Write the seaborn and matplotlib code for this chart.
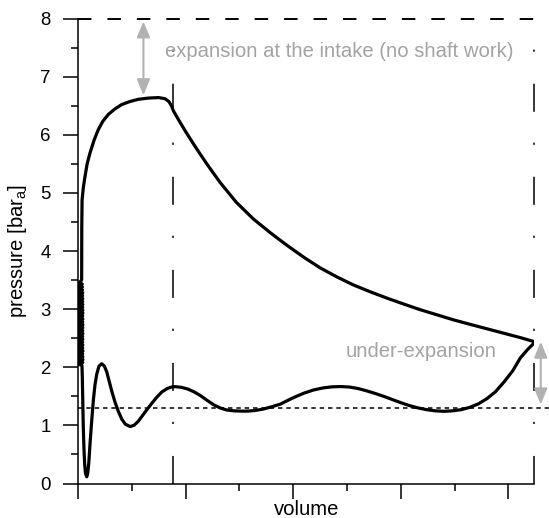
import matplotlib
matplotlib.use("Agg")
import matplotlib.pyplot as plt
import seaborn as sns
import pandas as pd
import numpy as np

# ---- data ----
# exhaust stroke: from bottom dead centre back towards top dead centre
lower_v = [4.24, 4.18, 4.11, 4.04, 3.96, 3.88, 3.80, 3.72, 3.64, 3.56, 3.48, 3.40, 3.32, 3.24,
           3.16, 3.08, 3.00, 2.92, 2.84, 2.76, 2.68, 2.60, 2.52, 2.44, 2.36, 2.28, 2.19, 2.10,
           2.03, 1.96, 1.88, 1.80, 1.72, 1.64, 1.57, 1.52, 1.45, 1.38, 1.32, 1.26, 1.20, 1.14,
           1.08, 1.02, 0.96, 0.902, 0.87, 0.83, 0.779, 0.73, 0.686, 0.64, 0.592, 0.56, 0.52,
           0.484, 0.44, 0.406, 0.375, 0.344, 0.315, 0.29, 0.267, 0.245, 0.22, 0.195, 0.174,
           0.158, 0.143, 0.127, 0.112, 0.10, 0.09, 0.081, 0.07, 0.062, 0.055, 0.049, 0.045,
           0.040, 0.037]
lower_p = [2.42, 2.31, 2.16, 1.94, 1.75, 1.58, 1.46, 1.37, 1.31, 1.27, 1.25, 1.242, 1.25, 1.27,
           1.30, 1.34, 1.39, 1.445, 1.50, 1.55, 1.595, 1.635, 1.66, 1.668, 1.663, 1.645, 1.61,
           1.555, 1.50, 1.44, 1.365, 1.32, 1.28, 1.255, 1.245, 1.245, 1.25, 1.265, 1.30, 1.355,
           1.43, 1.51, 1.575, 1.625, 1.655, 1.666, 1.66, 1.635, 1.575, 1.48, 1.38, 1.27, 1.15,
           1.07, 1.00, 0.98, 1.02, 1.11, 1.24, 1.40, 1.58, 1.76, 1.92, 2.02, 2.06, 2.02, 1.88,
           1.70, 1.44, 1.07, 0.69, 0.35, 0.17, 0.115, 0.17, 0.33, 0.62, 0.98, 1.40, 1.84, 2.03]
# re-compression oscillation near top dead centre (dense band between 2.0 and 3.5 bar)
noise_v = [0.037, 0.004, 0.044, 0.005, 0.046, 0.004, 0.045, 0.006, 0.044, 0.003, 0.046, 0.005,
           0.044, 0.004, 0.045, 0.006, 0.043, 0.003, 0.045, 0.005, 0.044, 0.004, 0.046, 0.005,
           0.044, 0.006, 0.045, 0.004, 0.046, 0.005, 0.044, 0.003, 0.045, 0.006, 0.044, 0.004,
           0.046, 0.005, 0.045, 0.004, 0.044, 0.006, 0.045, 0.005, 0.044, 0.004, 0.045, 0.006,
           0.043, 0.005, 0.044, 0.006, 0.042, 0.008, 0.041, 0.010, 0.040, 0.014, 0.034]
noise_p = [2.03, 2.055, 2.08, 2.105, 2.13, 2.155, 2.18, 2.205, 2.23, 2.255, 2.28, 2.305, 2.33,
           2.355, 2.38, 2.405, 2.43, 2.455, 2.48, 2.505, 2.53, 2.555, 2.58, 2.605, 2.63, 2.655,
           2.68, 2.705, 2.73, 2.755, 2.78, 2.805, 2.83, 2.855, 2.88, 2.905, 2.93, 2.955, 2.98,
           3.005, 3.03, 3.055, 3.08, 3.105, 3.13, 3.155, 3.18, 3.205, 3.23, 3.255, 3.28, 3.305,
           3.33, 3.355, 3.38, 3.405, 3.43, 3.46, 3.50]
# intake + expansion stroke
upper_v = [0.034, 0.035, 0.038, 0.050, 0.065, 0.085, 0.112, 0.15, 0.189, 0.23, 0.282, 0.34,
           0.406, 0.48, 0.561, 0.65, 0.747, 0.809, 0.845, 0.87, 0.887, 0.94, 0.995, 1.06, 1.12,
           1.20, 1.32, 1.47, 1.63, 1.79, 1.94, 2.10, 2.25, 2.41, 2.56, 2.72, 2.87, 3.03, 3.18,
           3.34, 3.49, 3.65, 3.80, 3.96, 4.11, 4.24]
upper_p = [3.50, 4.40, 4.88, 5.10, 5.28, 5.50, 5.69, 5.91, 6.09, 6.23, 6.35, 6.44, 6.52, 6.57,
           6.61, 6.63, 6.64, 6.62, 6.57, 6.49, 6.41, 6.24, 6.07, 5.88, 5.71, 5.49, 5.18, 4.84,
           4.55, 4.31, 4.10, 3.89, 3.71, 3.55, 3.415, 3.295, 3.19, 3.085, 2.99, 2.90, 2.815,
           2.735, 2.662, 2.585, 2.51, 2.44]

v_cutoff = 0.884      # intake valve closing (dash-dot line)
v_bdc = 4.24          # bottom dead centre (dash-dot line)
p_supply = 8.0        # supply pressure (dashed line)
p_exhaust = 1.3       # exhaust pressure (dotted line)
y_ticks = [0, 1, 2, 3, 4, 5, 6, 7, 8]
x_major = [0, 1, 2, 3, 4]
x_minor = [0.5, 1.5, 2.5, 3.5]

# ---- style ----
sns.set_style("ticks")
plt.rcParams["font.family"] = ["Liberation Sans", "DejaVu Sans"]
plt.rcParams["mathtext.fontset"] = "custom"
plt.rcParams["mathtext.rm"] = "Liberation Sans"
plt.rcParams["mathtext.it"] = "Liberation Sans:italic"
plt.rcParams["lines.scale_dashes"] = False
plt.rcParams["text.color"] = "black"
plt.rcParams["axes.labelcolor"] = "black"
plt.rcParams["xtick.color"] = "black"
plt.rcParams["ytick.color"] = "black"
plt.rcParams["axes.edgecolor"] = "black"

fig = plt.figure(figsize=(5.49, 5.18), dpi=100)
ax = fig.add_axes([78 / 549, 1 - 483.5 / 518, (534.3 - 78) / 549, (483.5 - 18.5) / 518])

path_v = lower_v + noise_v + upper_v
path_p = lower_p + noise_p + upper_p
df = pd.DataFrame({"volume": path_v, "pressure": path_p})
sns.lineplot(data=df, x="volume", y="pressure", sort=False, estimator=None,
             color="black", lw=2.3, ax=ax, solid_joinstyle="round", zorder=5)

# reference lines
ax.plot([0, v_bdc], [p_supply, p_supply], color="black", lw=1.4,
        dashes=(9.7, 11.5), clip_on=False, zorder=3)
ax.plot([0, 4.38], [p_exhaust, p_exhaust], color="black", lw=1.1,
        dashes=(3.2, 2.8), clip_on=False, zorder=3)
for vx in (v_cutoff, v_bdc):
    ax.plot([vx, vx], [0, p_supply], color="black", lw=1.1,
            dashes=(20.2, 23.0, 1.6, 22.2), clip_on=False, zorder=3)

gray_arrow = "#b2b2b2"
gray_text = "#a3a3a3"
arrow_style = "<|-|>,head_length=0.6,head_width=0.25"
ax.annotate("", xy=(0.608, 6.68), xytext=(0.608, 7.95),
            arrowprops=dict(arrowstyle=arrow_style, color=gray_arrow, lw=1.5,
                            mutation_scale=16, shrinkA=0, shrinkB=0),
            annotation_clip=False)
ax.annotate("", xy=(4.30, 1.36), xytext=(4.30, 2.44),
            arrowprops=dict(arrowstyle=arrow_style, color=gray_arrow, lw=1.5,
                            mutation_scale=16, shrinkA=0, shrinkB=0),
            annotation_clip=False)
ax.text(0.81, 7.43, "expansion at the intake (no shaft work)", color=gray_text,
        fontsize=14.6, va="center", ha="left")
ax.text(2.49, 2.27, "under-expansion", color=gray_text,
        fontsize=14.6, va="center", ha="left")

# axes
ax.set_xlim(0, v_bdc)
ax.set_ylim(0, 8)
ax.set_yticks(y_ticks)
ax.set_yticks(np.array(y_ticks[:-1]) + 0.5, minor=True)
ax.set_xticks(x_major)
ax.set_xticks(x_minor, minor=True)
ax.set_xticklabels([])
ax.tick_params(axis="both", which="major", direction="out", length=10.8, width=1.1,
               labelsize=13.4, color="black", labelcolor="black")
ax.tick_params(axis="both", which="minor", direction="out", length=4.8, width=1.1,
               color="black")
ax.tick_params(axis="y", which="major", pad=9)
for s in ("top", "right"):
    ax.spines[s].set_visible(False)
for s in ("left", "bottom"):
    ax.spines[s].set_linewidth(1.1)
    ax.spines[s].set_color("black")
ax.set_xlabel("volume", fontsize=14.6)
ax.xaxis.set_label_coords(0.5, -0.036)
ax.set_ylabel("pressure [bar$_{\\mathrm{a}}$]", fontsize=14.6)
ax.yaxis.set_label_coords(-0.108, 0.5)

fig.savefig("out.png", dpi=100)
